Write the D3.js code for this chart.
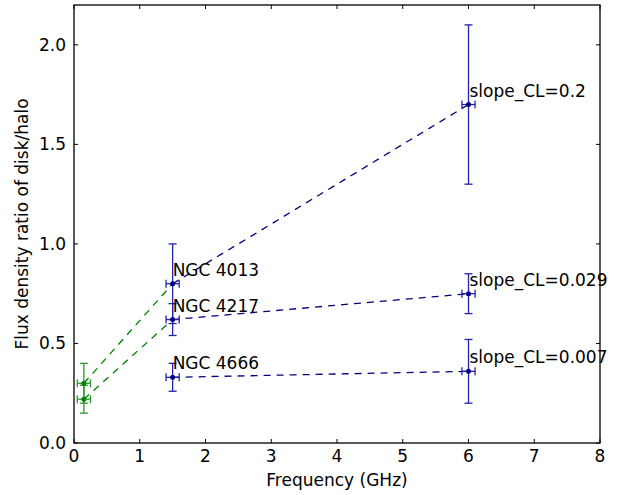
<!DOCTYPE html>
<html><head><meta charset="utf-8">
<script src="https://cdn.jsdelivr.net/npm/d3@7"></script>
<style>body{margin:0;background:#fff}text{font-family:"DejaVu Sans",sans-serif}</style>
</head><body>
<svg id="c" width="633" height="495"></svg>
<script>
// Data
const galaxies = ["NGC 4013", "NGC 4217", "NGC 4666"];
const slopeLabels = ["slope_CL=0.2", "slope_CL=0.029", "slope_CL=0.007"];
const freqLow = 0.15, freqMid = 1.5, freqHigh = 6;
const freqErr = 0.1;
const midValues = [0.80, 0.62, 0.33];
const midErr = [0.20, 0.08, 0.07];
const highValues = [1.70, 0.75, 0.36];
const highErr = [0.40, 0.10, 0.16];
const lowValues = [0.30, 0.22];
const lowErr = [0.10, 0.07];
const lowLinks = [0, 1]; // which mid point each low point connects to
const xTicks = [0,1,2,3,4,5,6,7,8];
const yTicks = [0.0,0.5,1.0,1.5,2.0];

const svg = d3.select("#c");
const L=74, R=600, T=5, B=443;
const FS = 17;
const x = d3.scaleLinear().domain([0,8]).range([L,R]);
const y = d3.scaleLinear().domain([0,2.2]).range([B,T]);

const blueLine = "#00007f", blueErr = "#2222aa", green = "#008000", greenErr="#2a9a2a";

// ticks (inside, mirrored)
const g = svg.append("g");
xTicks.forEach(t=>{
  g.append("line").attr("x1",x(t)).attr("x2",x(t)).attr("y1",B).attr("y2",B-4).attr("stroke","#000");
  g.append("line").attr("x1",x(t)).attr("x2",x(t)).attr("y1",T).attr("y2",T+4).attr("stroke","#000");
  g.append("text").attr("x",x(t)).attr("y",B+19).attr("text-anchor","middle").attr("font-size",FS).text(d3.format("d")(t));
});
yTicks.forEach(t=>{
  g.append("line").attr("x1",L).attr("x2",L+4).attr("y1",y(t)).attr("y2",y(t)).attr("stroke","#000");
  g.append("line").attr("x1",R).attr("x2",R-4).attr("y1",y(t)).attr("y2",y(t)).attr("stroke","#000");
  g.append("text").attr("x",L-8).attr("y",y(t)+6).attr("text-anchor","end").attr("font-size",FS).text(d3.format(".1f")(t));
});

function errbar(cx, cy, ex, ey, col){
  const gg = svg.append("g").attr("stroke",col).attr("stroke-width",1.3);
  gg.append("line").attr("x1",x(cx)).attr("x2",x(cx)).attr("y1",y(cy-ey)).attr("y2",y(cy+ey));
  gg.append("line").attr("x1",x(cx)-4).attr("x2",x(cx)+4).attr("y1",y(cy-ey)).attr("y2",y(cy-ey));
  gg.append("line").attr("x1",x(cx)-4).attr("x2",x(cx)+4).attr("y1",y(cy+ey)).attr("y2",y(cy+ey));
  gg.append("line").attr("x1",x(cx-ex)).attr("x2",x(cx+ex)).attr("y1",y(cy)).attr("y2",y(cy));
  gg.append("line").attr("x1",x(cx-ex)).attr("x2",x(cx-ex)).attr("y1",y(cy)-4).attr("y2",y(cy)+4);
  gg.append("line").attr("x1",x(cx+ex)).attr("x2",x(cx+ex)).attr("y1",y(cy)-4).attr("y2",y(cy)+4);
}

// green dashed lines
lowValues.forEach((v,i)=>{
  svg.append("line").attr("x1",x(freqLow)).attr("y1",y(v)).attr("x2",x(freqMid)).attr("y2",y(midValues[lowLinks[i]]))
    .attr("stroke",green).attr("stroke-width",1.3).attr("stroke-dasharray","7,6");
});
// blue dashed lines
midValues.forEach((v,i)=>{
  svg.append("line").attr("x1",x(freqMid)).attr("y1",y(v)).attr("x2",x(freqHigh)).attr("y2",y(highValues[i]))
    .attr("stroke",blueLine).attr("stroke-width",1.3).attr("stroke-dasharray","7,6");
});

lowValues.forEach((v,i)=>{ errbar(freqLow, v, freqErr, lowErr[i], greenErr); });
midValues.forEach((v,i)=>{ errbar(freqMid, v, freqErr, midErr[i], blueErr); });
highValues.forEach((v,i)=>{ errbar(freqHigh, v, freqErr, highErr[i], blueErr); });

lowValues.forEach(v=>svg.append("circle").attr("cx",x(freqLow)).attr("cy",y(v)).attr("r",2.5).attr("fill",green));
midValues.forEach(v=>svg.append("circle").attr("cx",x(freqMid)).attr("cy",y(v)).attr("r",2.5).attr("fill",blueLine));
highValues.forEach(v=>svg.append("circle").attr("cx",x(freqHigh)).attr("cy",y(v)).attr("r",2.5).attr("fill",blueLine));

// labels
midValues.forEach((v,i)=>{
  svg.append("text").attr("x",x(freqMid)).attr("y",y(v)-8).attr("font-size",FS).text(galaxies[i]);
});
highValues.forEach((v,i)=>{
  svg.append("text").attr("x",x(freqHigh)+1).attr("y",y(v)-8).attr("font-size",FS).text(slopeLabels[i]);
});

// frame
svg.append("rect").attr("x",L).attr("y",T).attr("width",R-L).attr("height",B-T).attr("fill","none").attr("stroke","#000").attr("stroke-width",1.3);

svg.append("text").attr("x",(L+R)/2).attr("y",486).attr("text-anchor","middle").attr("font-size",FS).text("Frequency (GHz)");
svg.append("text").attr("transform",`translate(28,${(T+B)/2}) rotate(-90)`).attr("text-anchor","middle").attr("font-size",FS).text("Flux density ratio of disk/halo");
</script>
</body></html>
